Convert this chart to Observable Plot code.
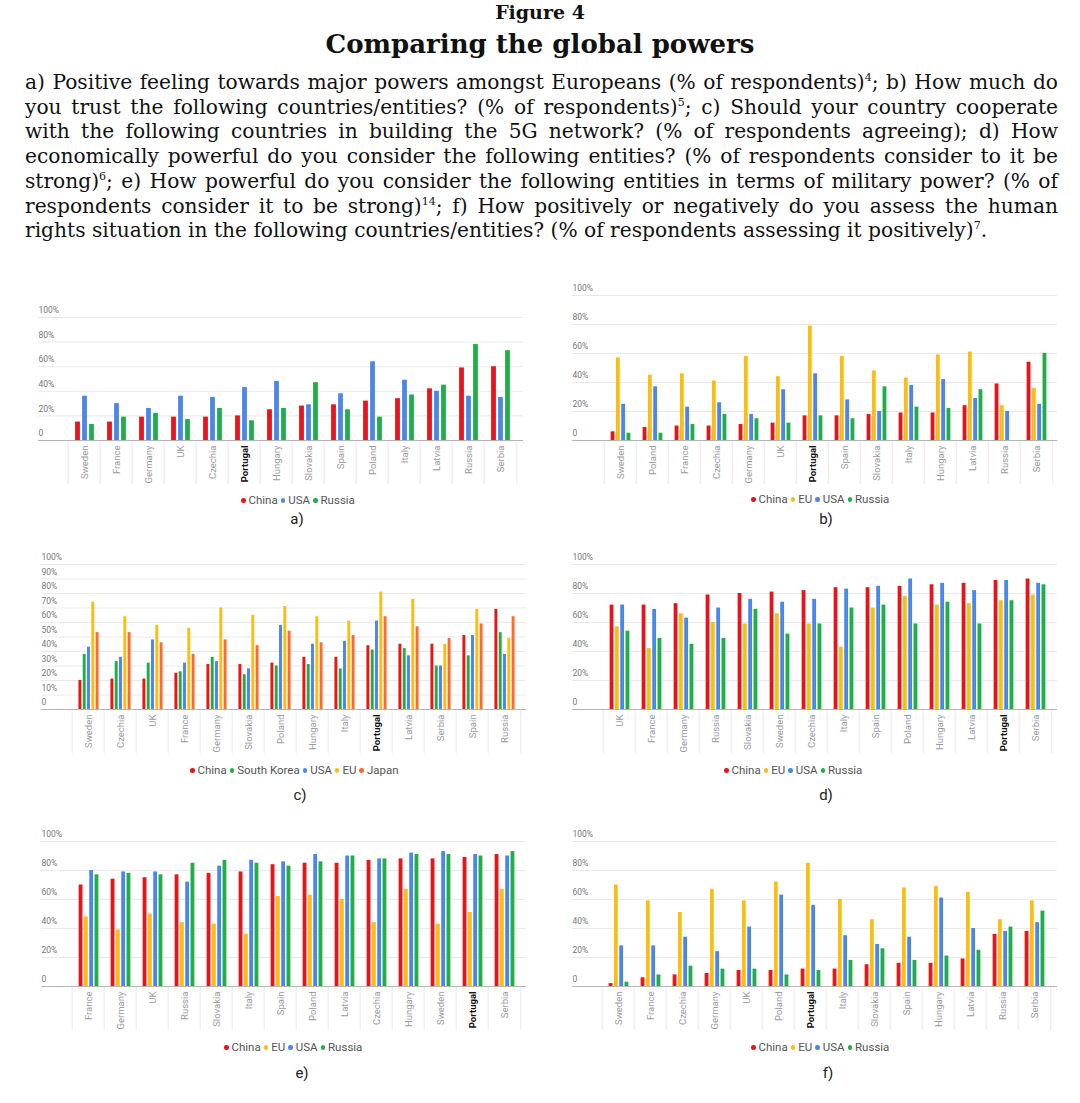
<!DOCTYPE html>
<html><head><meta charset="utf-8">
<script src="https://cdn.jsdelivr.net/npm/d3@7"></script>
<script src="https://cdn.jsdelivr.net/npm/@observablehq/plot@0.6"></script>
<style>
body{margin:0;background:#fff;}
#page{position:relative;width:1080px;height:1103px;overflow:hidden;background:#fff;}
.abs{position:absolute;}
.title1{top:1px;left:0;width:1080px;text-align:center;font:bold 19px/22px "DejaVu Serif",serif;color:#111;}
.title2{top:28px;left:0;width:1080px;text-align:center;font:bold 26px/32px "DejaVu Serif",serif;color:#111;}
.para{top:70px;left:25px;width:1033px;font:20.2px/24.7px "DejaVu Serif",serif;color:#111;}
.para div{text-align:justify;text-align-last:justify;white-space:nowrap;}
.para div.last{text-align-last:left;}
.para sup{font-size:11px;line-height:0;vertical-align:8px;}
.legend{font:11.5px "Roboto",sans-serif;color:#555;white-space:nowrap;line-height:14px;}
.legend .dot{display:inline-block;width:4.5px;height:4.5px;border-radius:50%;margin:0 3px 1px 3px;vertical-align:middle;}
.plabel{font:15px/18px "Roboto",sans-serif;color:#222;width:40px;text-align:center;}
svg{overflow:visible;}
</style>
</head><body><div id="page">
<div class="abs title1">Figure 4</div>
<div class="abs title2">Comparing the global powers</div>
<div class="abs para">
<div>a) Positive feeling towards major powers amongst Europeans (% of respondents)<sup>4</sup>; b) How much do</div>
<div>you trust the following countries/entities? (% of respondents)<sup>5</sup>; c) Should your country cooperate</div>
<div>with the following countries in building the 5G network? (% of respondents agreeing); d) How</div>
<div>economically powerful do you consider the following entities? (% of respondents consider to it be</div>
<div>strong)<sup>6</sup>; e) How powerful do you consider the following entities in terms of military power? (% of</div>
<div>respondents consider it to be strong)<sup>14</sup>; f) How positively or negatively do you assess the human</div>
<div class="last">rights situation in the following countries/entities? (% of respondents assessing it positively)<sup>7</sup>.</div>
</div>
</div>
<script>
// ---- colours
const RED = "#e8141c", BLUE = "#4a87ea", GREEN = "#1fae48", YELLOW = "#fbbd12", ORANGE = "#ff6b2b";

// ---- a) Positive feeling towards major powers
const aCountries = ["Sweden","France","Germany","UK","Czechia","Portugal","Hungary","Slovakia","Spain","Poland","Italy","Latvia","Russia","Serbia"];
const aChina  = [15,15,19,19,19,20,25,28,29,32,34,42,59,60];
const aUSA    = [36,30,26,36,35,43,48,29,38,64,49,40,36,35];
const aRussia = [13,19,22,17,26,16,26,47,25,19,37,45,78,73];

// ---- b) Trust
const bCountries = ["Sweden","Poland","France","Czechia","Germany","UK","Portugal","Spain","Slovakia","Italy","Hungary","Latvia","Russia","Serbia"];
const bChina  = [6,9,10,10,11,12,17,17,18,19,19,24,39,54];
const bEU     = [57,45,46,41,58,44,79,58,48,43,59,61,24,36];
const bUSA    = [25,37,23,26,18,35,46,28,20,38,42,29,20,25];
const bRussia = [5,5,11,18,15,12,17,15,37,23,22,35,null,60];

// ---- c) 5G cooperation
const cCountries = ["Sweden","Czechia","UK","France","Germany","Slovakia","Poland","Hungary","Italy","Portugal","Latvia","Serbia","Spain","Russia"];
const cChina  = [20,21,21,25,31,31,32,36,36,44,45,45,51,69];
const cKorea  = [38,33,32,26,36,24,30,31,28,41,42,30,37,53];
const cUSA    = [43,36,48,32,33,28,58,45,47,61,37,30,51,38];
const cEU     = [74,64,58,56,70,65,71,64,61,81,76,45,69,49];
const cJapan  = [53,53,46,38,48,44,54,46,51,64,57,49,59,64];

// ---- d) Economic power
const dCountries = ["UK","France","Germany","Russia","Slovakia","Sweden","Czechia","Italy","Spain","Poland","Hungary","Latvia","Portugal","Serbia"];
const dChina  = [72,72,73,79,80,81,82,84,84,85,86,87,89,90];
const dEU     = [57,42,66,60,59,66,59,43,70,78,72,73,75,79];
const dUSA    = [72,69,63,70,76,74,76,83,85,90,87,82,89,87];
const dRussia = [54,49,45,49,69,52,59,70,72,59,74,59,75,86];

// ---- e) Military power
const eCountries = ["France","Germany","UK","Russia","Slovakia","Italy","Spain","Poland","Latvia","Czechia","Hungary","Sweden","Portugal","Serbia"];
const eChina  = [70,74,75,77,78,79,84,85,85,87,88,88,89,91];
const eEU     = [48,39,50,44,43,36,62,63,60,44,67,43,51,67];
const eUSA    = [80,79,79,72,83,87,86,91,90,88,92,93,91,90];
const eRussia = [77,78,77,85,87,85,83,86,90,88,91,91,90,93];

// ---- f) Human rights
const fCountries = ["Sweden","France","Czechia","Germany","UK","Poland","Portugal","Italy","Slovakia","Spain","Hungary","Latvia","Russia","Serbia"];
const fChina  = [2,6,8,9,11,11,12,12,15,16,16,19,36,38];
const fEU     = [70,59,51,67,59,72,85,60,46,68,69,65,46,59];
const fUSA    = [28,28,34,24,41,63,56,35,29,34,61,40,38,44];
const fRussia = [3,8,14,12,12,8,11,18,26,18,21,25,41,52];

const ticks20 = [0,20,40,60,80,100];
const ticks10 = [0,10,20,30,40,50,60,70,80,90,100];

const page = document.getElementById("page");

function panel(cfg) {
  const {countries, series, left, top, width, height, mTop, mBottom, range, ticks, barW, step,
         legendLeft, legendTop, labelX, labelTop, label} = cfg;
  const n = countries.length;
  const bw = (range[1] - range[0]) / n;
  const pxPerUnit = (height - mTop - mBottom) / 100;
  const sepExt = 44 / pxPerUnit;
  const inset = (bw - barW) / 2;
  const k = series.length;
  const marks = [
    Plot.ruleY(ticks.filter(t => t > 0), {stroke: "#e9e9e9", strokeWidth: 1}),
    Plot.ruleX(countries, {x: d => d, dx: -bw / 2, y1: 0, y2: -sepExt, stroke: "#e8e8e8"}),
    Plot.ruleX([countries[n - 1]], {x: d => d, dx: bw / 2, y1: 0, y2: -sepExt, stroke: "#e8e8e8"}),
    Plot.text(ticks, {y: d => d, text: d => d === 0 ? "0" : d + "%", frameAnchor: "left", textAnchor: "start",
                      dy: -7, dx: 0, fontSize: 8.5, fill: "#777", fontFamily: "Roboto, sans-serif"})
  ];
  series.forEach((s, j) => {
    const idx = d3.range(n).filter(i => s.values[i] != null);
    const off = (j - (k - 1) / 2) * step + 0.5;
    marks.push(Plot.barY(idx, {x: i => countries[i], y: i => s.values[i], fill: s.color,
      insetLeft: inset, insetRight: inset, dx: off}));
  });
  marks.push(Plot.ruleY([0], {stroke: "#b5b5b5"}));
  marks.push(Plot.axisX({ticks: countries.filter(c => c !== "Portugal"), tickRotate: -90, tickSize: 0, tickPadding: 5,
    fontSize: 9.5, fill: "#9a9a9a", label: null, fontFamily: "Roboto, sans-serif"}));
  marks.push(Plot.axisX({ticks: ["Portugal"], tickRotate: -90, tickSize: 0, tickPadding: 5,
    fontSize: 9.5, fill: "#111", fontWeight: "bold", label: null, fontFamily: "Roboto, sans-serif"}));
  const svg = Plot.plot({
    width, height, marginTop: mTop, marginBottom: mBottom, marginLeft: 3, marginRight: 2,
    x: {domain: countries, range, padding: 0},
    y: {domain: [0, 100], axis: null},
    style: {background: "transparent"},
    marks
  });
  const wrap = document.createElement("div");
  wrap.className = "abs";
  wrap.style.left = left + "px";
  wrap.style.top = top + "px";
  wrap.appendChild(svg);
  page.appendChild(wrap);

  const leg = document.createElement("div");
  leg.className = "abs legend";
  leg.style.left = legendLeft + "px";
  leg.style.top = (legendTop - 7) + "px";
  leg.innerHTML = series.map(s => `<span class="dot" style="background:${s.color}"></span>${s.name}`).join("");
  page.appendChild(leg);

  const lab = document.createElement("div");
  lab.className = "abs plabel";
  lab.style.left = (labelX - 20) + "px";
  lab.style.top = (labelTop - 9) + "px";
  lab.textContent = label;
  page.appendChild(lab);
}

panel({countries: aCountries, series: [
  {name: "China", color: RED, values: aChina},
  {name: "USA", color: BLUE, values: aUSA},
  {name: "Russia", color: GREEN, values: aRussia}],
  left: 35, top: 300, width: 490, height: 190, mTop: 17, mBottom: 50, range: [28, 486], ticks: ticks20,
  barW: 5.5, step: 7, legendLeft: 238, legendTop: 500, labelX: 297, labelTop: 519, label: "a)"});

panel({countries: bCountries, series: [
  {name: "China", color: RED, values: bChina},
  {name: "EU", color: YELLOW, values: bEU},
  {name: "USA", color: BLUE, values: bUSA},
  {name: "Russia", color: GREEN, values: bRussia}],
  left: 569, top: 278, width: 490, height: 212, mTop: 17, mBottom: 50, range: [30, 487], ticks: ticks20,
  barW: 4.5, step: 5.3, legendLeft: 748, legendTop: 499, labelX: 826, labelTop: 519, label: "b)"});

panel({countries: cCountries, series: [
  {name: "China", color: RED, values: cChina},
  {name: "South Korea", color: GREEN, values: cKorea},
  {name: "USA", color: BLUE, values: cUSA},
  {name: "EU", color: YELLOW, values: cEU},
  {name: "Japan", color: ORANGE, values: cJapan}],
  left: 38, top: 546, width: 490, height: 213, mTop: 18, mBottom: 50, range: [29.7, 487], ticks: ticks10,
  barW: 3.6, step: 4.3, legendLeft: 187, legendTop: 770, labelX: 300, labelTop: 795, label: "c)"});

panel({countries: dCountries, series: [
  {name: "China", color: RED, values: dChina},
  {name: "EU", color: YELLOW, values: dEU},
  {name: "USA", color: BLUE, values: dUSA},
  {name: "Russia", color: GREEN, values: dRussia}],
  left: 569, top: 547, width: 490, height: 212, mTop: 17, mBottom: 50, range: [29.3, 486.7], ticks: ticks20,
  barW: 4.5, step: 5.3, legendLeft: 721, legendTop: 770, labelX: 826, labelTop: 795, label: "d)"});

panel({countries: eCountries, series: [
  {name: "China", color: RED, values: eChina},
  {name: "EU", color: YELLOW, values: eEU},
  {name: "USA", color: BLUE, values: eUSA},
  {name: "Russia", color: GREEN, values: eRussia}],
  left: 38, top: 824, width: 490, height: 212, mTop: 17, mBottom: 50, range: [29.7, 487], ticks: ticks20,
  barW: 4.5, step: 5.3, legendLeft: 221, legendTop: 1047, labelX: 302, labelTop: 1073, label: "e)"});

panel({countries: fCountries, series: [
  {name: "China", color: RED, values: fChina},
  {name: "EU", color: YELLOW, values: fEU},
  {name: "USA", color: BLUE, values: fUSA},
  {name: "Russia", color: GREEN, values: fRussia}],
  left: 569, top: 824, width: 490, height: 212, mTop: 17, mBottom: 50, range: [28.7, 486], ticks: ticks20,
  barW: 4.5, step: 5.3, legendLeft: 748, legendTop: 1047, labelX: 828, labelTop: 1073, label: "f)"});
</script>
</body></html>
